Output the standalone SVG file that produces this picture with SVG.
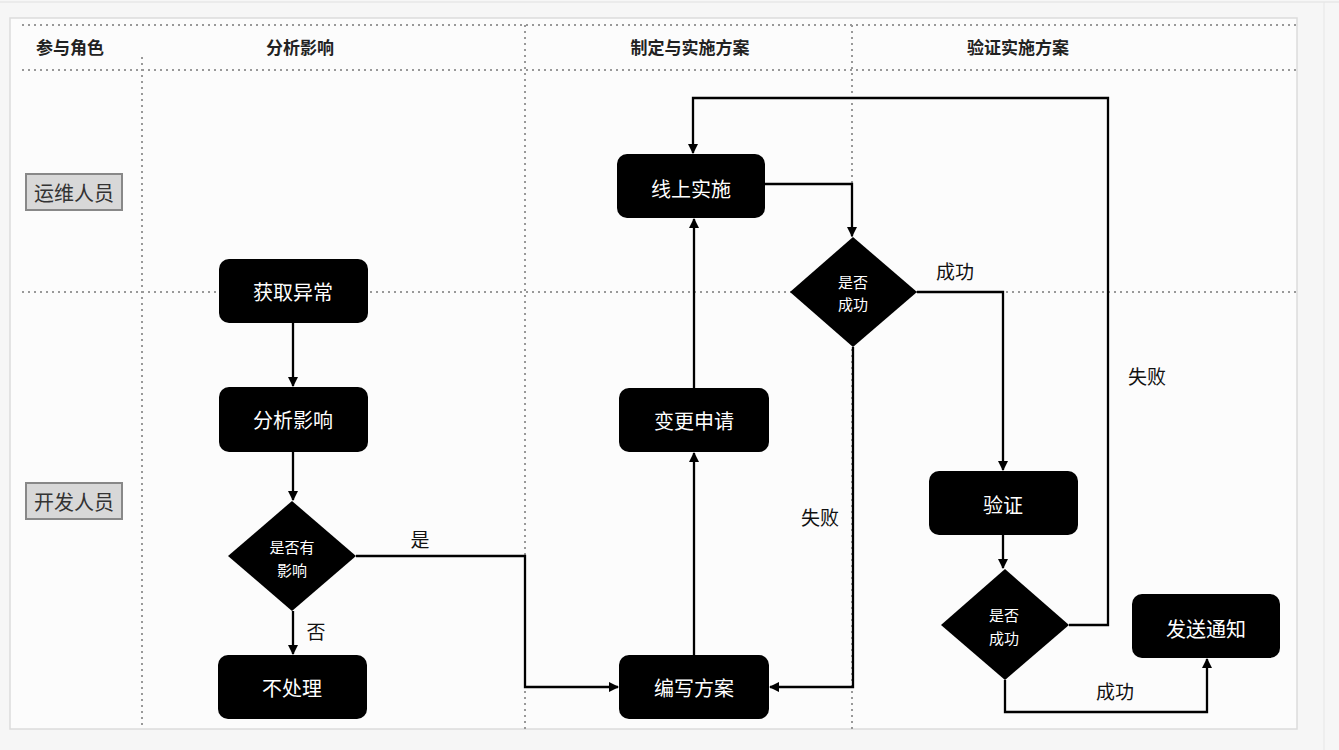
<svg xmlns="http://www.w3.org/2000/svg" width="1339" height="750" viewBox="0 0 1339 750">
<defs>
<style>
.grid{stroke:#999;stroke-width:2;stroke-dasharray:2 4;fill:none}
.node rect,.node polygon{fill:#000}
.nt{fill:#fff;font-family:"Noto Sans CJK SC","Noto Sans CJK JP",sans-serif;font-size:20px;text-anchor:middle;dominant-baseline:central}
.dt{fill:#fff;font-family:"Noto Sans CJK SC","Noto Sans CJK JP",sans-serif;font-size:15px;text-anchor:middle;dominant-baseline:central}
.hd{fill:#222;font-family:"Noto Sans CJK SC","Noto Sans CJK JP",sans-serif;font-size:17px;font-weight:bold;text-anchor:middle;dominant-baseline:central}
.role rect{fill:#d8d8d8;stroke:#888;stroke-width:2}
.rt{fill:#333;font-family:"Noto Sans CJK SC","Noto Sans CJK JP",sans-serif;font-size:20px;text-anchor:middle;dominant-baseline:central}
.lb{fill:#111;font-family:"Noto Sans CJK SC","Noto Sans CJK JP",sans-serif;font-size:19px;text-anchor:middle;dominant-baseline:central}
.edge{stroke:#000;stroke-width:2.3;fill:none}
.arr{marker-end:url(#ah)}
</style>
<marker id="ah" viewBox="0 0 10 10" refX="9" refY="5" markerWidth="4.5" markerHeight="4.5" orient="auto" markerUnits="strokeWidth">
<path d="M0,0 L10,5 L0,10 z" fill="#000"/>
</marker>
</defs>
<rect x="0" y="0" width="1339" height="750" fill="#f6f6f6"/>
<line x1="0" y1="2" x2="1339" y2="2" stroke="#e0e0e0" stroke-width="1"/>
<line x1="1324" y1="2" x2="1324" y2="750" stroke="#e6e6e6" stroke-width="1"/>
<rect x="10" y="18" width="1287" height="711" fill="#fcfcfc" stroke="#dcdcdc" stroke-width="1.5"/>

<g id="grid">
<line class="grid" x1="22" y1="25" x2="1297" y2="25"/>
<line class="grid" x1="22" y1="70" x2="1297" y2="70"/>
<line class="grid" x1="22" y1="292" x2="1297" y2="292"/>
<line class="grid" x1="142" y1="57" x2="142" y2="729"/>
<line class="grid" x1="525" y1="25" x2="525" y2="729"/>
<line class="grid" x1="852" y1="25" x2="852" y2="729"/>
</g>

<g id="headers">
<text class="hd" x="70" y="46">参与角色</text>
<text class="hd" x="300" y="46">分析影响</text>
<text class="hd" x="690" y="46">制定与实施方案</text>
<text class="hd" x="1018" y="46">验证实施方案</text>
</g>

<g id="role-ops" class="role">
<rect x="26" y="174" width="96" height="36"/>
<text class="rt" x="74" y="192">运维人员</text>
</g>
<g id="role-dev" class="role">
<rect x="26" y="483" width="96" height="36"/>
<text class="rt" x="74" y="501">开发人员</text>
</g>

<g id="connectors">
<path class="edge arr" d="M293,323 L293,386"/>
<path class="edge arr" d="M293,452 L293,500"/>
<path class="edge arr" d="M293,611 L293,654"/>
<path class="edge arr" d="M356,556 L525,556 L525,687 L618,687"/>
<path class="edge arr" d="M694,655 L694,453"/>
<path class="edge arr" d="M694,388 L694,219"/>
<path class="edge arr" d="M765,184 L852,184 L852,236"/>
<path class="edge arr" d="M917,292 L1003,292 L1003,470"/>
<path class="edge arr" d="M853,347 L853,687 L770,687"/>
<path class="edge arr" d="M1003,535 L1003,568"/>
<path class="edge arr" d="M1069,625 L1108,625 L1108,98 L693,98 L693,153"/>
<path class="edge arr" d="M1005,680 L1005,712 L1207,712 L1207,659"/>
<text class="lb" x="420" y="538">是</text>
<text class="lb" x="316" y="630">否</text>
<text class="lb" x="955" y="270">成功</text>
<text class="lb" x="820" y="516">失败</text>
<text class="lb" x="1147" y="375">失败</text>
<text class="lb" x="1115" y="690">成功</text>
</g>

<g id="n-get" class="node"><rect x="219" y="259" width="149" height="64" rx="10"/><text class="nt" x="293" y="291">获取异常</text></g>
<g id="n-analyze" class="node"><rect x="219" y="387" width="149" height="65" rx="10"/><text class="nt" x="293" y="419">分析影响</text></g>
<g id="n-impact" class="node"><polygon points="292,501 356,556 292,611 228,556"/><text class="dt" x="292" y="546">是否有</text><text class="dt" x="292" y="569">影响</text></g>
<g id="n-none" class="node"><rect x="218" y="655" width="149" height="64" rx="10"/><text class="nt" x="292" y="687">不处理</text></g>
<g id="n-write" class="node"><rect x="619" y="655" width="150" height="64" rx="10"/><text class="nt" x="694" y="687">编写方案</text></g>
<g id="n-change" class="node"><rect x="619" y="388" width="150" height="64" rx="10"/><text class="nt" x="694" y="420">变更申请</text></g>
<g id="n-online" class="node"><rect x="617" y="154" width="148" height="64" rx="10"/><text class="nt" x="691" y="188">线上实施</text></g>
<g id="n-ok1" class="node"><polygon points="853,237 917,292 853,347 790,292"/><text class="dt" x="853" y="281">是否</text><text class="dt" x="853" y="303">成功</text></g>
<g id="n-verify" class="node"><rect x="929" y="471" width="149" height="64" rx="10"/><text class="nt" x="1003" y="504">验证</text></g>
<g id="n-ok2" class="node"><polygon points="1005,569 1069,625 1005,680 941,625"/><text class="dt" x="1004" y="614">是否</text><text class="dt" x="1004" y="637">成功</text></g>
<g id="n-notify" class="node"><rect x="1132" y="594" width="148" height="64" rx="10"/><text class="nt" x="1206" y="628">发送通知</text></g>
</svg>
